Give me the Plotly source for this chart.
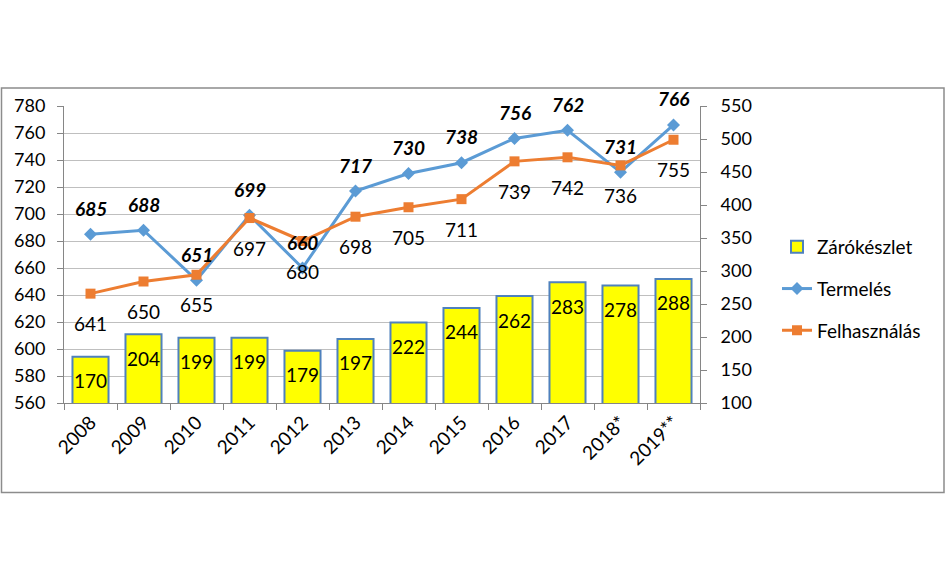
import plotly.graph_objects as go

years = ["2008", "2009", "2010", "2011", "2012", "2013", "2014", "2015", "2016", "2017", "2018*", "2019**"]
zarokeszlet = [170, 204, 199, 199, 179, 197, 222, 244, 262, 283, 278, 288]
termeles = [685, 688, 651, 699, 660, 717, 730, 738, 756, 762, 731, 766]
felhasznalas = [641, 650, 655, 697, 680, 698, 705, 711, 739, 742, 736, 755]

left_ticks = list(range(560, 781, 20))
right_ticks = list(range(100, 551, 50))

FONT = "Lato, Calibri, sans-serif"
BLUE = "#5B9BD5"
ORANGE = "#ED7D31"
AXIS = "#868686"
GRID = "#BFBFBF"

fig = go.Figure()
fig.add_trace(go.Bar(
    x=years, y=zarokeszlet, name="Zárókészlet", yaxis="y2",
    marker=dict(color="#FFFF00", line=dict(color="#4F81BD", width=2)),
    legendgroup="a",
))
fig.add_trace(go.Scatter(
    x=years, y=termeles, name="Termelés", mode="lines+markers",
    line=dict(color=BLUE, width=3), marker=dict(symbol="diamond", size=10, color=BLUE),
    legendgroup="b",
))
fig.add_trace(go.Scatter(
    x=years, y=felhasznalas, name="Felhasználás", mode="lines+markers",
    line=dict(color=ORANGE, width=3), marker=dict(symbol="square", size=10, color=ORANGE),
    legendgroup="c",
))

ann = []
for i, v in enumerate(termeles):
    ann.append(dict(x=i, y=v, xref="x", yref="y", text=f"<b><i>{v}</i></b>", showarrow=False,
                    yshift=26, font=dict(family=FONT, size=19, color="black")))
for i, v in enumerate(felhasznalas):
    ann.append(dict(x=i, y=v, xref="x", yref="y", text=str(v), showarrow=False,
                    yshift=-30, font=dict(family=FONT, size=19, color="black")))
for i, v in enumerate(zarokeszlet):
    ann.append(dict(x=i, y=v, xref="x", yref="y2", text=str(v), showarrow=False,
                    yshift=-24, font=dict(family=FONT, size=19, color="black")))

L, R, T, B = 64, 246, 106, 174
W, H = 946, 577
pw, ph = W - L - R, H - T - B

def px(x):
    return (x - L) / pw

def py(y):
    return (H - B - y) / ph

fig.update_layout(
    width=W, height=H,
    margin=dict(l=L, r=R, t=T, b=B, pad=0),
    paper_bgcolor="white", plot_bgcolor="white",
    font=dict(family=FONT, size=17, color="black"),
    bargap=0.32,
    showlegend=True,
    legend=dict(x=px(777), y=py(289), xanchor="left", yanchor="middle",
                font=dict(family=FONT, size=19, color="black"),
                traceorder="grouped", tracegroupgap=14, bgcolor="rgba(0,0,0,0)"),
    xaxis=dict(type="category", categoryorder="array", categoryarray=years,
               range=[-0.5, len(years) - 0.5], autorange=False,
               tickangle=-45, showline=True, linecolor=AXIS, linewidth=1,
               ticks="outside", tickson="boundaries", ticklen=6, tickcolor=AXIS,
               tickfont=dict(family=FONT, size=19), showgrid=False),
    yaxis=dict(range=[560, 780], autorange=False, tickvals=left_ticks, showline=True, linecolor=AXIS, linewidth=1,
               ticks="outside", ticklen=6, tickcolor=AXIS, showgrid=True, gridcolor=GRID,
               gridwidth=1, zeroline=False, tickfont=dict(family=FONT, size=18),
               ticklabelstandoff=8),
    yaxis2=dict(range=[100, 550], autorange=False, tickvals=right_ticks, overlaying="y", side="right",
                showline=True, linecolor=AXIS, linewidth=1, ticks="outside", ticklen=6,
                tickcolor=AXIS, showgrid=False, zeroline=False, tickfont=dict(family=FONT, size=18),
                ticklabelstandoff=10),
    annotations=ann,
    shapes=[dict(type="rect", xref="paper", yref="paper",
                 x0=px(1.5), x1=px(944), y0=py(492.5), y1=py(88),
                 line=dict(color="#8C8C8C", width=1.5), fillcolor="rgba(0,0,0,0)", layer="below")],
)

fig.write_html("out.html", config={"displayModeBar": False},
               post_script="document.body.style.margin='0';document.body.style.overflow='hidden';")
